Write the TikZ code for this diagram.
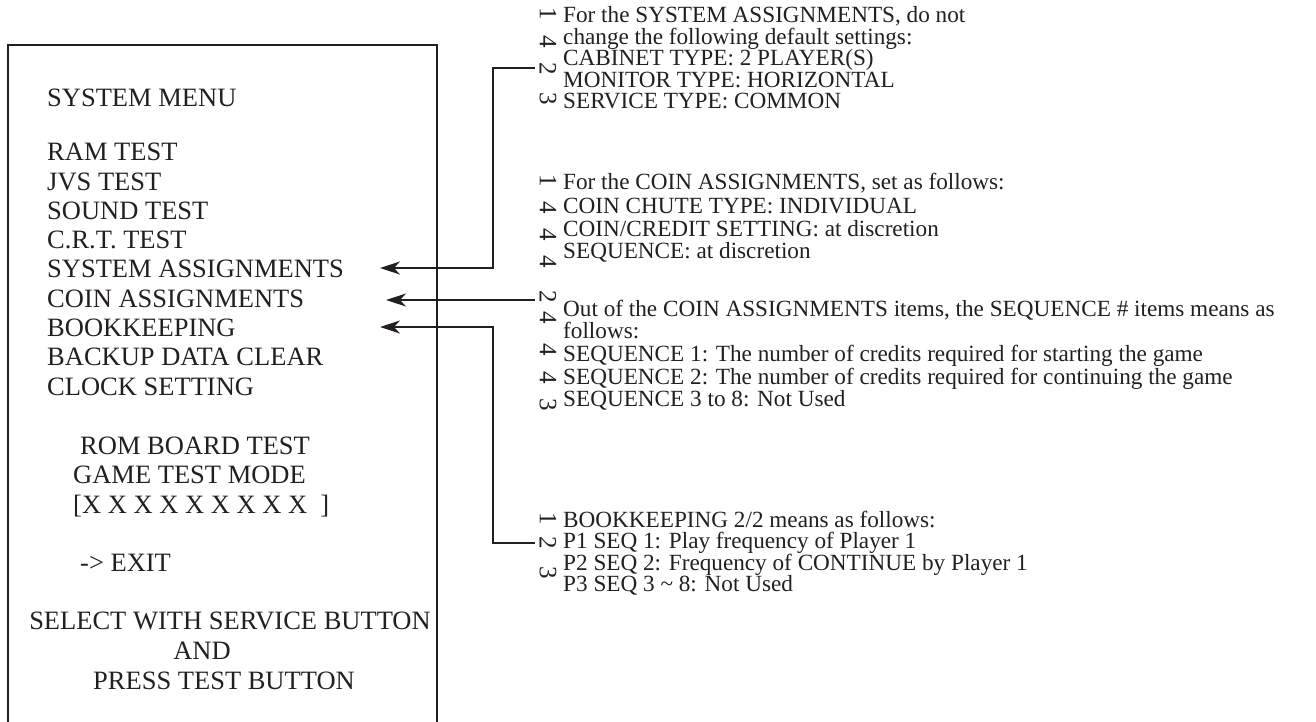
\documentclass[tikz,border=0pt]{standalone}
\usepackage{fontspec}
\setmainfont{Liberation Serif}
\newfontfamily\rfont{Liberation Serif}
\usetikzlibrary{arrows.meta}
\definecolor{ink}{HTML}{231F20}
\tikzset{
  boxtxt/.style={anchor=base west, inner sep=0pt, font=\fontsize{26.5}{29}\selectfont, text=ink},
  boxctr/.style={anchor=base, inner sep=0pt, font=\fontsize{26.5}{29}\selectfont, text=ink},
  note/.style={anchor=base west, inner sep=0pt, font=\rfont\fontsize{23.2}{22}\selectfont, text=ink},
  digit/.style={rotate=-90, inner sep=0pt, font=\fontsize{25}{25}\selectfont, text=ink},
  frame/.style={draw=ink, line width=2pt},
  conn/.style={draw=ink, line width=1.2pt, -{Stealth[length=20pt,width=13pt,inset=6pt]}},
  plain/.style={draw=ink, line width=1.2pt}
}
\begin{document}
\begin{tikzpicture}[x=1pt,y=-1pt]
\useasboundingbox (0,0) rectangle (1316,721);
\clip (0,0) rectangle (1316,721);
% screen frame
\draw[frame] (8,740) -- (8,45) -- (437,45) -- (437,740);
% menu
\node[boxtxt] (title) at (47,106) {SYSTEM MENU};
\node[boxtxt] (ram) at (47,160) {RAM TEST};
\node[boxtxt] (jvs) at (47,190) {JVS TEST};
\node[boxtxt] (snd) at (47,219) {SOUND TEST};
\node[boxtxt] (crt) at (47,248) {C.R.T. TEST};
\node[boxtxt] (sys) at (47,277) {SYSTEM ASSIGNMENTS};
\node[boxtxt] (coin) at (47,307) {COIN ASSIGNMENTS};
\node[boxtxt] (book) at (47,336) {BOOKKEEPING};
\node[boxtxt] (bkup) at (47,365) {BACKUP DATA CLEAR};
\node[boxtxt] (clk) at (47,395) {CLOCK SETTING};
\node[boxtxt] (rom) at (80,454) {ROM BOARD TEST};
\node[boxtxt] (game) at (73,483) {GAME TEST MODE};
\node[boxtxt] (xx) at (73,513) {[X X X X X X X X X\ \ ]};
\node[boxtxt] (exit) at (80,571) {-> EXIT};
\node[boxctr] (sel) at (230,629) {SELECT WITH SERVICE BUTTON};
\node[boxctr] (and) at (202,659) {AND};
\node[boxctr] (prs) at (224,689) {PRESS TEST BUTTON};
% group 1
\node[digit] (a1) at (548,14) {1};
\node[digit] (a2) at (548,42) {4};
\node[digit] (a3) at (548,69) {2};
\node[digit] (a4) at (548,99) {3};
\node[note] (t11) at (563,22) {For the SYSTEM ASSIGNMENTS, do not};
\node[note] (t12) at (563,44) {change the following default settings:};
\node[note] (t13) at (563,65) {CABINET TYPE: 2 PLAYER(S)};
\node[note] (t14) at (563,87) {MONITOR TYPE: HORIZONTAL};
\node[note] (t15) at (563,108) {SERVICE TYPE: COMMON};
% group 2
\node[digit] (b1) at (548,181) {1};
\node[digit] (b2) at (548,208) {4};
\node[digit] (b3) at (548,235) {4};
\node[digit] (b4) at (548,262) {4};
\node[note] (t21) at (563,189) {For the COIN ASSIGNMENTS, set as follows:};
\node[note] (t22) at (563,213) {COIN CHUTE TYPE: INDIVIDUAL};
\node[note] (t23) at (563,236) {COIN/CREDIT SETTING: at discretion};
\node[note] (t24) at (563,258) {SEQUENCE: at discretion};
% group 3
\node[digit] (c1) at (548,297) {2};
\node[digit] (c2) at (548,318) {4};
\node[digit] (c3) at (548,350) {4};
\node[digit] (c4) at (548,378) {4};
\node[digit] (c5) at (548,405) {3};
\node[note] (t31) at (563,316) {Out of the COIN ASSIGNMENTS items, the SEQUENCE \# items means as};
\node[note] (t32) at (563,338) {follows:};
\node[note] (t33) at (563,361) {SEQUENCE 1: The number of credits required for starting the game};
\node[note] (t34) at (563,384) {SEQUENCE 2: The number of credits required for continuing the game};
\node[note] (t35) at (563,406) {SEQUENCE 3 to 8: Not Used};
% group 4
\node[digit] (e1) at (548,519) {1};
\node[digit] (e2) at (548,543) {2};
\node[digit] (e3) at (548,573) {3};
\node[note] (t41) at (563,527) {BOOKKEEPING 2/2 means as follows:};
\node[note] (t42) at (563,548) {P1 SEQ 1: Play frequency of Player 1};
\node[note] (t43) at (563,570) {P2 SEQ 2: Frequency of CONTINUE by Player 1};
\node[note] (t44) at (563,591) {P3 SEQ 3 \textasciitilde\ 8: Not Used};
% connectors
\coordinate (tipA) at (380,268);
\coordinate (tipB) at (386,300);
\coordinate (tipC) at (380,327);
\draw[conn] ([xshift=-13pt]a3.center |- 0,68) -- (493,68) |- (tipA);
\draw[conn] ([xshift=-13pt]c1.center |- 0,300) -- (tipB);
\draw[conn] ([xshift=-13pt]e2.center |- 0,543) -- (493,543) |- (tipC);
\end{tikzpicture}
\end{document}
